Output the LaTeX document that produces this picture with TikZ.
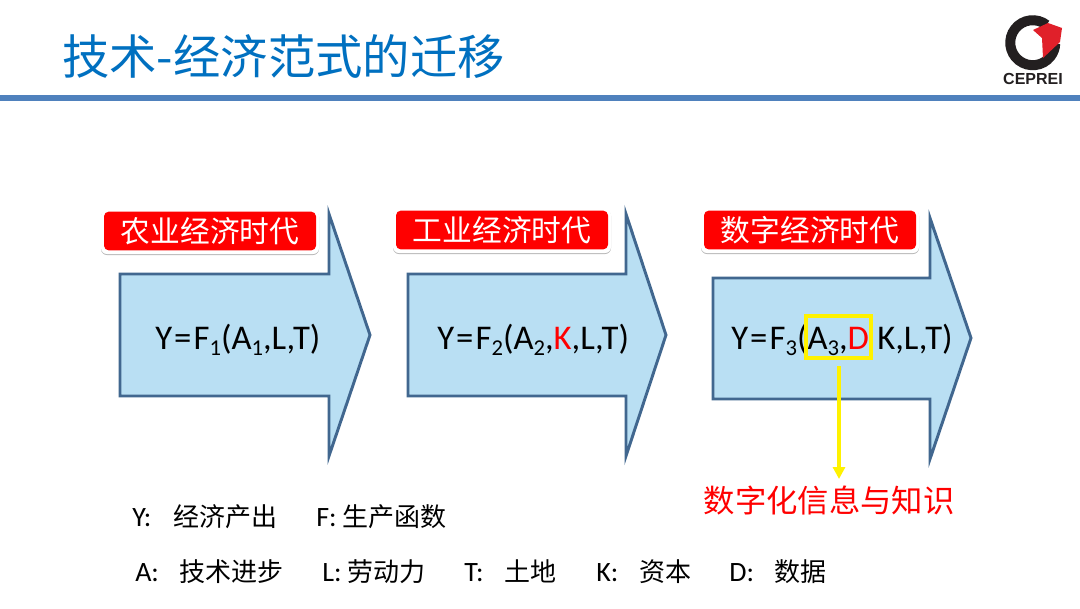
\documentclass[tikz,border=0pt]{standalone}
\usepackage{fontspec}
\setmainfont{Carlito}
\newfontfamily\cjk{Noto Sans CJK SC}
\newfontfamily\logofont{Liberation Sans}
\usetikzlibrary{arrows.meta}
\definecolor{titleblue}{HTML}{0070C0}
\definecolor{rulebluec}{HTML}{4F81BD}
\definecolor{arrowfill}{HTML}{B9DFF3}
\definecolor{arrowedge}{HTML}{41678F}
\definecolor{logoblack}{HTML}{231F20}
\definecolor{logored}{HTML}{E0202A}
\newcommand{\subidx}[1]{\raisebox{-0.2em}{\fontsize{17}{17}\selectfont #1}}
\newcommand{\redt}[1]{\textcolor{red}{#1}}
\newcommand{\eqs}{\kern0.06em=\kern0.06em}
\tikzset{
  x=0.75pt,y=-0.75pt,
  bigarrow/.style={fill=arrowfill,draw=arrowedge,line width=2.2pt,miter limit=10},
  tagback/.style={fill=white,rounded corners=4.5pt,minimum width=163.5pt,minimum height=33pt,inner sep=0pt,outer sep=0pt},
  tagshadow/.style={fill=black!28,rounded corners=4.5pt,minimum width=163.5pt,minimum height=33pt,inner sep=0pt,outer sep=0pt},
  tagbox/.style={fill=red,rounded corners=3.5pt,text=white,minimum width=159pt,minimum height=29pt,inner sep=0pt,font=\cjk\fontsize{22.3}{24}\selectfont},
  formula/.style={inner sep=0pt,anchor=base west,font=\fontsize{26}{28}\selectfont},
  legend/.style={inner sep=0pt,anchor=base west,font=\fontsize{21}{23}\selectfont},
}
\newcommand{\zh}[1]{{\cjk\fontsize{19.5}{22}\selectfont #1}}
\begin{document}
\begin{tikzpicture}
\useasboundingbox (0,0) rectangle (1080,608);
\fill[white] (0,0) rectangle (1080,608);
% title
\node[anchor=base west,inner sep=0pt,text=titleblue,font=\cjk\fontsize{35.5}{40}\selectfont] (title) at (62,74) {技术-经济范式的迁移};
\fill[rulebluec] (0,95) rectangle (1080,101);
% logo
\draw[logoblack,line width=7.5pt] (1046.6,24.97) arc[start angle=-52,end angle=-358,radius=22.5];
\fill[logored] (1033,30) -- (1048,23) -- (1062,28) -- (1060,42) -- (1043,58) -- (1042,38) -- cycle;
\node[inner sep=0pt,text=logoblack,font=\logofont\bfseries\fontsize{12}{13}\selectfont] (logotext) at (1033,79) {CEPREI};
% arrows
\draw[bigarrow] (120,274) -- (329,274) -- (329,214) -- (370,335) -- (329,456) -- (329,396) -- (120,396) -- cycle;
\draw[bigarrow] (408,274) -- (626,274) -- (626,214) -- (666,335) -- (626,456) -- (626,396) -- (408,396) -- cycle;
\draw[bigarrow] (713,278) -- (930,278) -- (930,218) -- (971,338) -- (930,459) -- (930,399) -- (713,399) -- cycle;
% tags
\node[tagshadow] (s1) at (210,233) {};
\node[tagback] (b1) at (210,232) {};
\node[tagbox] (t1) at (210,231) {农业经济时代};
\node[tagshadow] (s2) at (502,232) {};
\node[tagback] (b2) at (502,231) {};
\node[tagbox] (t2) at (502,230) {工业经济时代};
\node[tagshadow] (s3) at (810,232) {};
\node[tagback] (b3) at (810,231) {};
\node[tagbox] (t3) at (810,230) {数字经济时代};
% formulas
\node[formula] (f1) at (155,349) {Y\eqs F\subidx{1}(A\subidx{1},L,T)};
\node[formula] (f2) at (437,349) {Y\eqs F\subidx{2}(A\subidx{2},\redt{K},L,T)};
\node[formula] (f3a) at (731,349) {Y\eqs F\subidx{3}(A\subidx{3},\redt{D}};
\node[formula] (f3b) at (877,349) {K,L,T)};
% yellow
\node[draw=yellow,line width=2.8pt,minimum width=49pt,minimum height=32pt,inner sep=0pt] (ybox) at (838.5,337) {};
\node[inner sep=0pt,text=red,font=\cjk\fontsize{23.5}{26}\selectfont] (dlabel) at (829,500) {数字化信息与知识};
\coordinate (ystart) at (839,366);
\coordinate (yend) at (839,479);
\draw[yellow,line width=2.8pt,-{Triangle[length=9pt,width=9pt]}] (ystart) -- (yend);
% legend
\node[legend] (l1) at (132,526) {Y:\hspace{0.8em}\zh{经济产出}};
\node[legend] (l2) at (316,526) {F:\hspace{0.2em}\zh{生产函数}};
\node[legend] (l3) at (135,581) {A:\hspace{0.75em}\zh{技术进步}};
\node[legend] (l4) at (322,581) {L:\hspace{0.2em}\zh{劳动力}};
\node[legend] (l5) at (464,581) {T:\hspace{0.75em}\zh{土地}};
\node[legend] (l6) at (596,581) {K:\hspace{0.75em}\zh{资本}};
\node[legend] (l7) at (729,581) {D:\hspace{0.75em}\zh{数据}};
\end{tikzpicture}
\end{document}
